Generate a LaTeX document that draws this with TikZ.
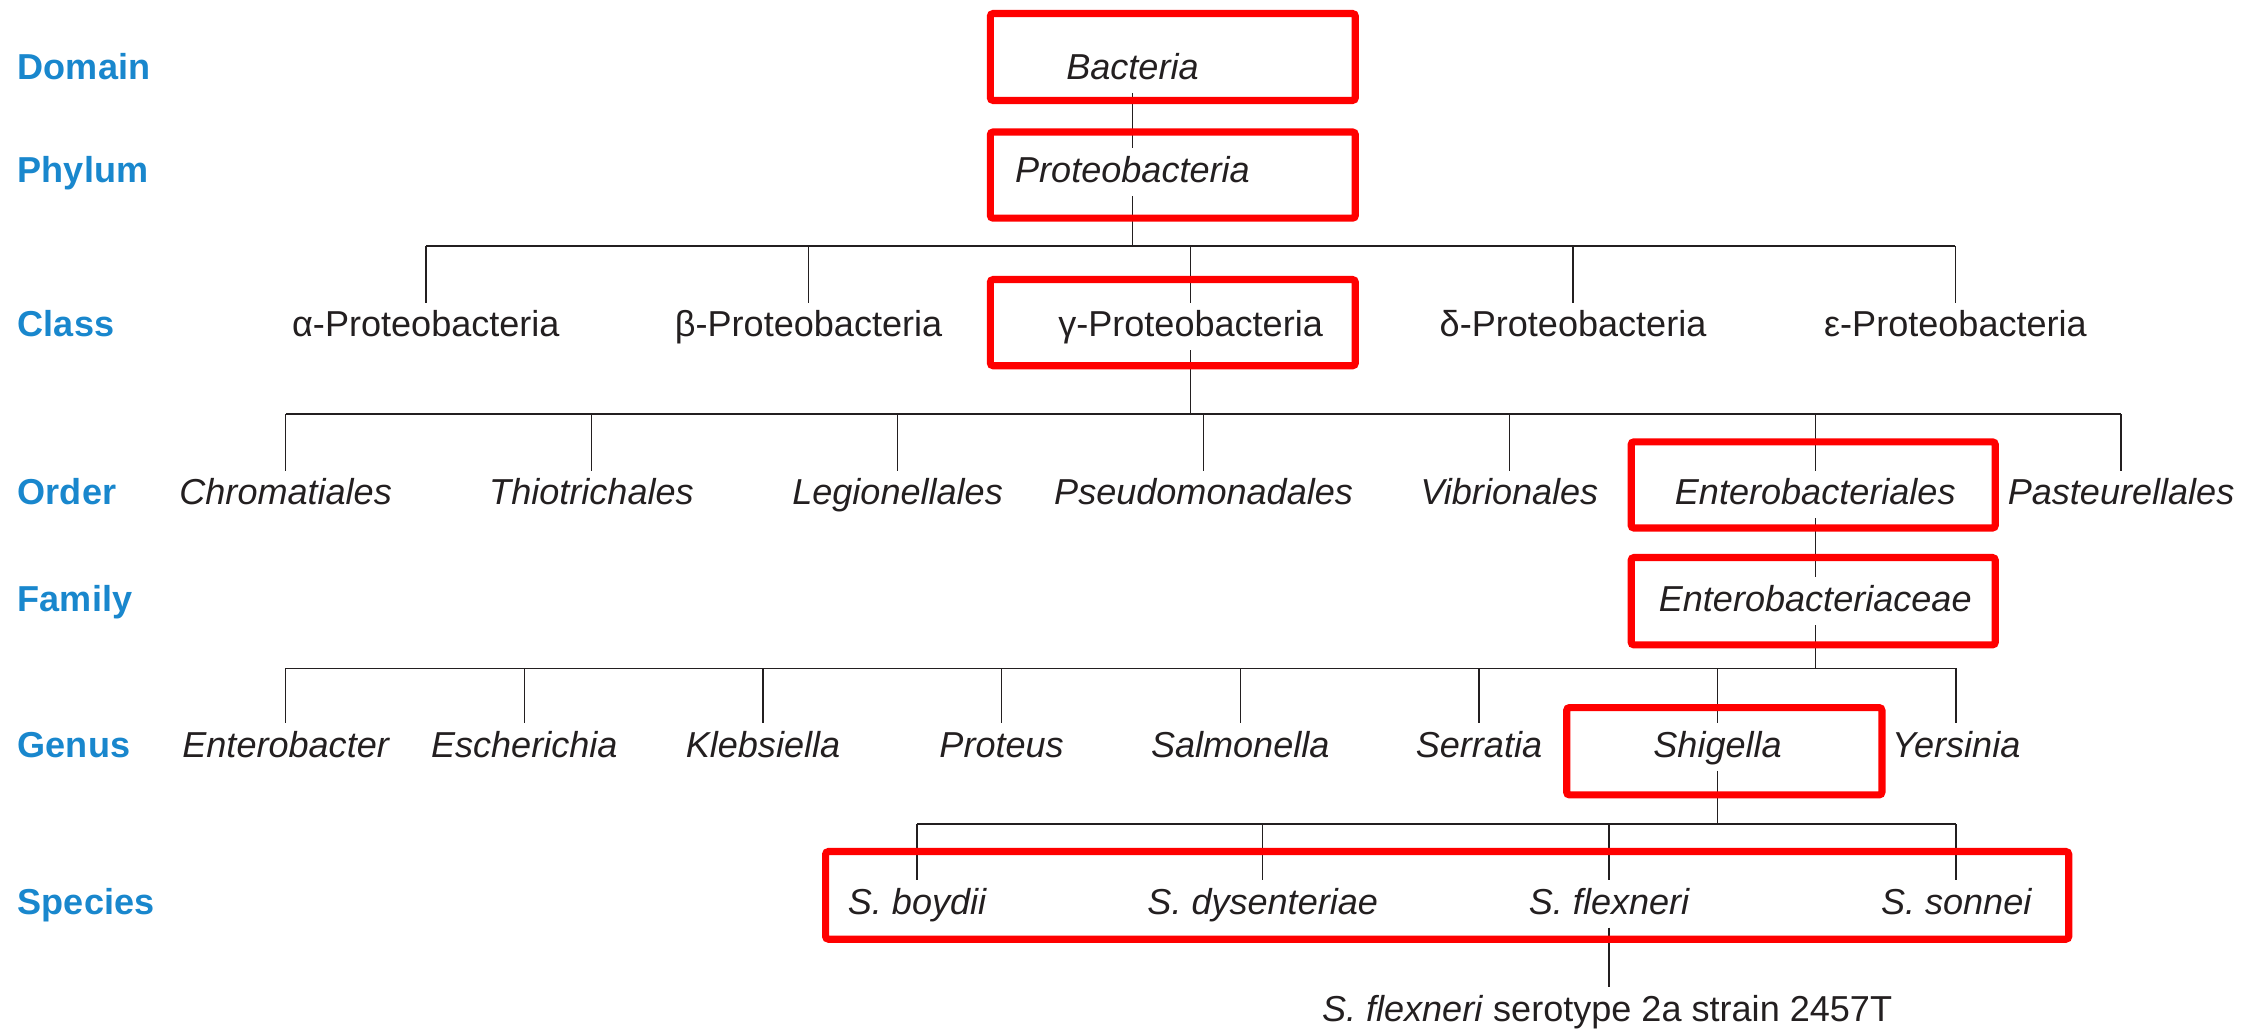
\documentclass[tikz,border=0pt]{standalone}
\usepackage{fontspec}
\setmainfont{Liberation Sans}
\definecolor{lblblue}{RGB}{25,135,205}
\definecolor{hlred}{RGB}{255,0,0}
\definecolor{ink}{RGB}{35,31,32}
\begin{document}
\begin{tikzpicture}[x=0.5pt,y=-0.5pt,
  font=\fontsize{12.5}{15}\selectfont,
  taxon/.style={anchor=base, text height=0.716em, text depth=0pt, inner xsep=2pt, inner ysep=4.5pt, text=ink},
  ital/.style={taxon, font=\fontsize{12.5}{15}\selectfont\itshape},
  rank/.style={anchor=base west, inner sep=0pt, text=lblblue, font=\fontsize{12.5}{15}\selectfont\bfseries},
  link/.style={draw=ink, line width=0.5pt},
  hl/.style={draw=hlred, line width=2.5pt, rounded corners=1pt}]
\useasboundingbox (0,0) rectangle (1568,713);

% rank labels
\node[rank] (lDomain) at (12,55) {Domain};
\node[rank] (lPhylum) at (12,126.6) {Phylum};
\node[rank] (lClass) at (12,233.5) {Class};
\node[rank] (lOrder) at (12,350) {Order};
\node[rank] (lFamily) at (12,424) {Family};
\node[rank] (lGenus) at (12,525) {Genus};
\node[rank] (lSpecies) at (12,633.6) {Species};

% domain, phylum
\node[ital] (bact) at (785,55) {Bacteria};
\node[ital] (prot) at (785,126.6) {Proteobacteria};

% classes
\node[taxon] (alpha) at (295.2,233.5) {α-Proteobacteria};
\node[taxon] (beta) at (560.5,233.5) {β-Proteobacteria};
\node[taxon] (gamma) at (825.3,233.5) {γ-Proteobacteria};
\node[taxon] (delta) at (1090.4,233.5) {δ-Proteobacteria};
\node[taxon] (eps) at (1355.5,233.5) {ε-Proteobacteria};

% orders
\node[ital] (chrom) at (198,350) {Chromatiales};
\node[ital] (thio) at (410,350) {Thiotrichales};
\node[ital] (legi) at (622.2,350) {Legionellales};
\node[ital] (pseu) at (834.3,350) {Pseudomonadales};
\node[ital] (vibr) at (1046.3,350) {Vibrionales};
\node[ital] (entO) at (1258.3,350) {Enterobacteriales};
\node[ital] (past) at (1470.3,350) {Pasteurellales};

% family
\node[ital] (entF) at (1258.3,424) {Enterobacteriaceae};

% genera
\node[ital] (enterob) at (198,525) {Enterobacter};
\node[ital] (esch) at (363.4,525) {Escherichia};
\node[ital] (kleb) at (528.9,525) {Klebsiella};
\node[ital] (prote) at (694.3,525) {Proteus};
\node[ital] (salm) at (859.7,525) {Salmonella};
\node[ital] (serr) at (1025.2,525) {Serratia};
\node[ital] (shig) at (1190.6,525) {Shigella};
\node[ital] (yers) at (1356,525) {Yersinia};

% species
\node[ital] (boyd) at (635.7,633.6) {S. boydii};
\node[ital] (dyse) at (875.3,633.6) {S. dysenteriae};
\node[ital] (flex) at (1115.4,633.6) {S. flexneri};
\node[ital] (sonn) at (1356,633.6) {S. sonnei};

% strain
\node[taxon] (strain) at (1114,708) {\textit{S. flexneri} serotype 2a strain 2457T};

% bar levels
\coordinate (barC) at (0,170.5);
\coordinate (barO) at (0,287);
\coordinate (barG) at (0,463.3);
\coordinate (barS) at (0,571.2);

% connectors
\draw[link] (bact) -- (prot);
\draw[link] (prot.south) -- (prot.south |- barC);
\draw[link] (alpha |- barC) -- (eps |- barC);
\foreach \n in {alpha,beta,gamma,delta,eps} \draw[link] (\n |- barC) -- (\n.north);

\draw[link] (gamma.south) -- (gamma.south |- barO);
\draw[link] (chrom |- barO) -- (past |- barO);
\foreach \n in {chrom,thio,legi,pseu,vibr,entO,past} \draw[link] (\n |- barO) -- (\n.north);

\draw[link] (entO.south) -- (entF.north);
\draw[link] (entF.south) -- (entF.south |- barG);
\draw[link] (enterob |- barG) -- (yers |- barG);
\foreach \n in {enterob,esch,kleb,prote,salm,serr,shig,yers} \draw[link] (\n |- barG) -- (\n.north);

\draw[link] (shig.south) -- (shig.south |- barS);
\draw[link] (boyd |- barS) -- (sonn |- barS);
\foreach \n in {boyd,dyse,flex,sonn} \draw[link] (\n |- barS) -- (\n.north);

\draw[link] (flex.south) -- (flex.south |- strain.north);

% highlight boxes
\draw[hl] (686.5,9.4) rectangle (939.5,69.6);
\draw[hl] (686.5,91.5) rectangle (939.5,151.2);
\draw[hl] (686.5,193.8) rectangle (939.5,253.5);
\draw[hl] (1130.7,306.3) rectangle (1383.1,366);
\draw[hl] (1130.7,386.5) rectangle (1383.1,447);
\draw[hl] (1086,490.5) rectangle (1304.5,551);
\draw[hl] (572.3,590.3) rectangle (1434,651);
\end{tikzpicture}
\end{document}
